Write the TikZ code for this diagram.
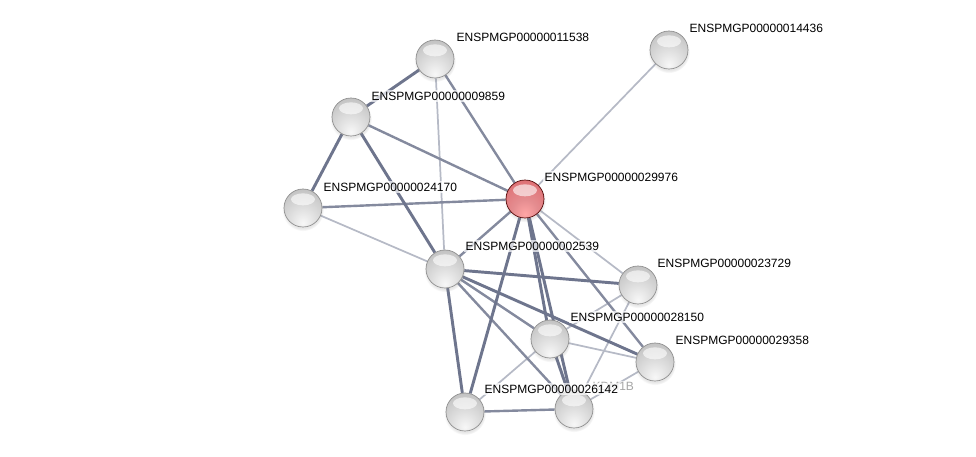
\documentclass[tikz,border=0pt]{standalone}
\usepackage{fontspec}
\setmainfont{Liberation Sans}
\usetikzlibrary{backgrounds,shadows}
\definecolor{edgecol}{RGB}{110,117,141}
\definecolor{redmid}{RGB}{222,112,116}
\pgfdeclareradialshading{greysphere}{\pgfpoint{0bp}{-20bp}}{%
  color(0bp)=(black!3); color(16bp)=(black!12); color(38bp)=(black!24);
  color(58bp)=(black!36); color(72bp)=(black!48); color(100bp)=(black!48)}
\pgfdeclareradialshading{redsphere}{\pgfpoint{0bp}{-20bp}}{%
  color(0bp)=(red!35!white); color(16bp)=(redmid!80!white); color(38bp)=(redmid);
  color(58bp)=(redmid!85!black); color(72bp)=(redmid!60!black); color(100bp)=(redmid!60!black)}
\begin{document}
\begin{tikzpicture}[x=0.75pt, y=-0.75pt, line cap=round, font=\fontsize{9}{10}\selectfont,
    prot/.style={circle, minimum size=28.5pt, inner sep=0pt, draw=black!45, line width=0.5pt,
      shading=greysphere,
      circular drop shadow={shadow xshift=0pt, shadow yshift=-1.5pt, opacity=0.2},
      path picture={\fill[white, opacity=0.6] ([yshift=6.5pt]path picture bounding box.center)
        ellipse (9pt and 4.5pt);}},
    hub/.style={prot, draw=red!30!black, shading=redsphere},
    lbl/.style={anchor=west, inner sep=1pt, fill=white, fill opacity=0.7, text opacity=1},
    strong/.style={draw=edgecol, line width=2.2pt},
    mid/.style={draw=edgecol!85!white, line width=1.8pt},
    weak/.style={draw=edgecol!50!white, line width=1.3pt}]
  \useasboundingbox (0,0) rectangle (976,457);
  % proteins
  \node[prot] (p11538) at (435,59) {};
  \node[prot] (p14436) at (669,50) {};
  \node[prot] (p09859) at (351,117) {};
  \node[hub]  (p29976) at (525,199) {};
  \node[prot] (p24170) at (303,208) {};
  \node[prot] (p02539) at (445,269) {};
  \node[prot] (p23729) at (638,285) {};
  \node[prot] (p28150) at (550,339) {};
  \node[prot] (p29358) at (655,362) {};
  \node[prot] (p26142) at (465,412) {};
  \node[prot] (kdm) at (574,409) {};
  % interactions
  \begin{scope}[on background layer]
    \draw[weak] (p11538) -- (p02539);
    \draw[weak] (p24170) -- (p02539);
    \draw[weak] (p29976) -- (p14436);
    \draw[weak] (p29976) -- (p23729);
    \draw[weak] (p28150) -- (p26142);
    \draw[weak] (p28150) -- (p29358);
    \draw[weak] (p23729) -- (p28150);
    \draw[weak] (p23729) -- (kdm);
    \draw[weak] (p29358) -- (kdm);
    \draw[mid] (p11538) -- (p29976);
    \draw[mid] (p09859) -- (p29976);
    \draw[mid] (p24170) -- (p29976);
    \draw[mid] (p29976) -- (p02539);
    \draw[mid] (p29976) -- (p29358);
    \draw[mid] (p02539) -- (p28150);
    \draw[mid] (p02539) -- (kdm);
    \draw[mid] (p26142) -- (kdm);
    \draw[strong] (p11538) -- (p09859);
    \draw[strong] (p09859) -- (p24170);
    \draw[strong] (p09859) -- (p02539);
    \draw[strong] (p29976) -- (p26142);
    \draw[strong] (p29976) -- (p28150);
    \draw[strong] (p29976) -- (kdm);
    \draw[strong] (p02539) -- (p23729);
    \draw[strong] (p02539) -- (p29358);
    \draw[strong] (p02539) -- (p26142);
    \draw[strong] (p28150) -- (kdm);
  \end{scope}
  % labels
  \node[lbl] at (455,37) {ENSPMGP00000011538};
  \node[lbl] at (688,28) {ENSPMGP00000014436};
  \node[lbl] at (370,96) {ENSPMGP00000009859};
  \node[lbl] at (543,177) {ENSPMGP00000029976};
  \node[lbl] at (322,187) {ENSPMGP00000024170};
  \node[lbl] at (464,246) {ENSPMGP00000002539};
  \node[lbl] at (656,263) {ENSPMGP00000023729};
  \node[lbl] at (569,317) {ENSPMGP00000028150};
  \node[lbl] at (674,340) {ENSPMGP00000029358};
  \node[lbl, text=black!35] at (591,386) {KDM1B};
  \node[lbl] at (483,389) {ENSPMGP00000026142};
\end{tikzpicture}
\end{document}
